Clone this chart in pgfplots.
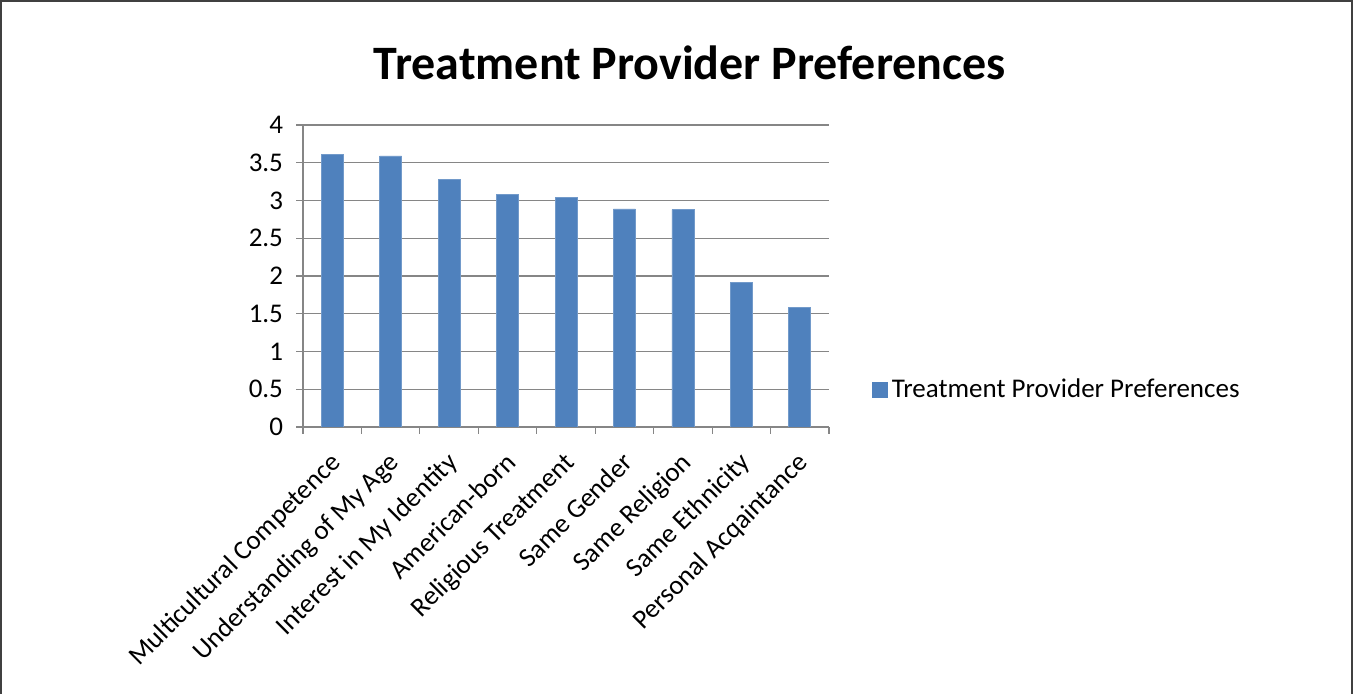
\documentclass[border=0pt]{standalone}
\usepackage{pgfplots}
\pgfplotsset{compat=1.18}
\usepackage{fontspec}
\setmainfont{Carlito}
\definecolor{barblue}{HTML}{4F81BD}
\definecolor{gridgray}{HTML}{868686}
\definecolor{framegray}{HTML}{404040}

\begin{document}
\begin{tikzpicture}[x=1pt,y=1pt]
\useasboundingbox (0,0) rectangle (676.5,347);
% chart area frame
\draw[framegray, line width=0.8pt] (0.5,0) -- (0.5,346.6) -- (676,346.6) -- (676,0);
\node[font=\fontsize{24}{28}\selectfont\bfseries, anchor=base] at (345,307) {Treatment Provider Preferences};
\begin{axis}[
  at={(151.5pt,133.5pt)}, anchor=south west,
  width=263pt, height=151pt, scale only axis,
  xmin=-0.5, xmax=8.5, ymin=0, ymax=4,
  enlargelimits=false,
  ytick={0,0.5,...,4},
  ymajorgrids, grid style={gridgray, line width=0.6pt},
  axis x line*=bottom, axis y line*=left,
  axis line style={gridgray, line width=0.6pt, -},
  xtick={0,...,8},
  xticklabels={Multicultural Competence, Understanding of My Age, Interest in My Identity, American-born, Religious Treatment, Same Gender, Same Religion, Same Ethnicity, Personal Acqaintance},
  major x tick style={draw=none},
  minor xtick={-0.5,0.5,...,8.5},
  tick align=outside, major tick length=3.5pt, minor tick length=3.5pt,
  tick style={gridgray, line width=0.6pt},
  /pgf/number format/assume math mode=true,
  ticklabel style={font=\fontsize{13.5}{16}\selectfont, text=black},
  yticklabel style={xshift=-3pt},
  % shifts act along and across the rotated label
  xticklabel style={rotate=45, anchor=north east, inner sep=1pt, xshift=-6pt, yshift=-3.5pt},
  ybar, bar width=11pt,
  legend style={at={(1.07,0.1225)}, anchor=west, draw=none, fill=none,
    font=\fontsize{13.5}{16}\selectfont, legend cell align=left},
  legend image code/.code={\fill[barblue] (0pt,-3.75pt) rectangle (7.5pt,3.75pt);},
]
\addplot[fill=barblue, draw=barblue!80!white, line width=0.3pt] coordinates {
  (0,3.61) (1,3.59) (2,3.28) (3,3.08) (4,3.04)
  (5,2.89) (6,2.88) (7,1.91) (8,1.58)
};
\addlegendentry{Treatment Provider Preferences}
\end{axis}
\end{tikzpicture}
\end{document}
